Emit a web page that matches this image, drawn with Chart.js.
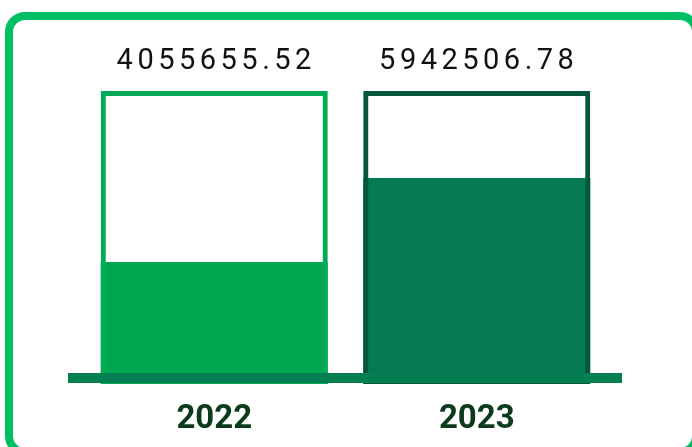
<!DOCTYPE html>
<html>
<head>
<meta charset="utf-8">
<script src="https://cdn.jsdelivr.net/npm/chart.js@4/dist/chart.umd.min.js"></script>
<style>
  html, body { margin: 0; padding: 0; background: #fff; }
  #wrap { position: relative; width: 692px; height: 447px; overflow: hidden; }
  #card { position: absolute; left: 5px; top: 12px; width: 679px; height: 428px;
          border: 8px solid #00BF63; border-radius: 20px; background: #fff; }
  #c { position: absolute; left: 0; top: 0; }
</style>
</head>
<body>
<div id="wrap">
  <div id="card"></div>
  <canvas id="c" width="692" height="447"></canvas>
</div>
<script>
// Data
const categories = ['2022', '2023'];
const valueLabels = ['4055655.52', '5942506.78'];
const fillLevels = [41.6, 70.3];      // filled share of each container (%)
const capacity = [100, 100];          // container outline (%)

const fillColors = ['#02A550', '#057A53'];
const outlineColors = ['#03AA55', '#05573A'];

function drawBase(chart) {
  const ctx = chart.ctx, a = chart.chartArea, y0 = chart.scales.y.getPixelForValue(0);
  ctx.save();
  ctx.fillStyle = '#047F52';
  ctx.fillRect(a.left - 15, y0 - 11, (a.right - a.left) + 29, 10);
  ctx.restore();
}

const valueLabelPlugin = {
  id: 'valueLabels',
  afterDatasetsDraw(chart) {
    drawBase(chart);
    const ctx = chart.ctx;
    const meta = chart.getDatasetMeta(0);
    ctx.save();
    ctx.font = '400 29px Roboto';
    ctx.fillStyle = '#111111';
    ctx.textAlign = 'center';
    ctx.textBaseline = 'middle';
    try { ctx.letterSpacing = '4.5px'; } catch (e) {}
    meta.data.forEach((bar, i) => {
      ctx.fillText(valueLabels[i], bar.x + 2, bar.y - 29);
    });
    ctx.restore();
  }
};

new Chart(document.getElementById('c'), {
  type: 'bar',
  data: {
    labels: categories,
    datasets: [
      {
        data: capacity,
        backgroundColor: 'rgba(0,0,0,0)',
        borderColor: outlineColors,
        borderWidth: 5,
        borderSkipped: false,
        grouped: false,
        order: 0,
        barPercentage: 0.865,
        categoryPercentage: 1
      },
      {
        data: fillLevels,
        backgroundColor: fillColors,
        borderWidth: 0,
        grouped: false,
        order: 1,
        barPercentage: 0.865,
        categoryPercentage: 1
      }
    ]
  },
  options: {
    responsive: false,
    animation: false,
    events: [],
    layout: { padding: { left: 83, right: 84, top: 91, bottom: -8 } },
    plugins: { legend: { display: false }, tooltip: { enabled: false } },
    scales: {
      y: { display: false, min: 0, max: 100 },
      x: {
        grid: { display: false, drawTicks: false },
        border: { display: false },
        ticks: {
          padding: 19,
          color: '#0B3A1C',
          font: { family: 'Roboto', size: 33, weight: 'bold', lineHeight: 1 }
        }
      }
    }
  },
  plugins: [valueLabelPlugin]
});
</script>
</body>
</html>
